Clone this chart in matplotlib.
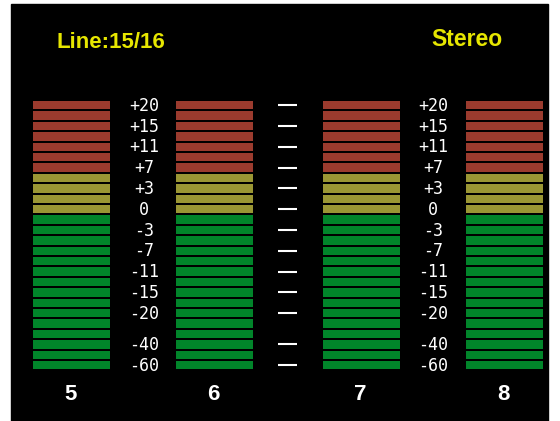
import matplotlib
matplotlib.use("Agg")
import matplotlib.pyplot as plt
from matplotlib.patches import Rectangle

# meter data
channels = ["5", "6", "7", "8"]
n_red = 7
n_yellow = 4
n_green = 15
scale_labels = ["+20", "+15", "+11", "+7", "+3", "0", "-3", "-7", "-11", "-15", "-20", "-40", "-60"]
scale_rows = [0, 2, 4, 6, 8, 10, 12, 14, 16, 18, 20, 23, 25]
title_left = "Line:15/16"
title_right = "Stereo"

RED = "#9b3b2e"
YEL = "#9a9634"
GRN = "#01852a"

fig = plt.figure(figsize=(5.6, 4.21), dpi=100)
fig.patch.set_facecolor("white")
ax = fig.add_axes([0, 0, 1, 1])
ax.set_xlim(0, 560)
ax.set_ylim(421, 0)
ax.axis("off")

ax.add_patch(Rectangle((11, 4), 537, 417, color="black"))

seg_colors = [RED] * n_red + [YEL] * n_yellow + [GRN] * n_green
top, pitch, seg_h = 101, 10.4, 8.4
meter_x = [33, 176, 323, 466]
meter_w = 77

for mx, ch in zip(meter_x, channels):
    for i, c in enumerate(seg_colors):
        ax.add_patch(Rectangle((mx, top + i * pitch), meter_w, seg_h, color=c, lw=0))
    ax.text(mx + meter_w / 2 - 1, 394, ch, color="white", ha="center", va="center",
            fontsize=16, fontweight="bold", family="Liberation Sans")

# scale labels between 5/6 and 7/8, dashes between 6/7
for lx in [144, 433]:
    for lab, r in zip(scale_labels, scale_rows):
        ax.text(lx, top + r * pitch + seg_h / 2 + 0.5, lab, color="white", ha="center",
                va="center", fontsize=12, family="DejaVu Sans Mono")
for r in scale_rows:
    y = top + r * pitch + seg_h / 2
    ax.plot([278, 297], [y, y], color="white", lw=1.5, solid_capstyle="butt")

ax.text(57, 43, title_left, color="#e6e600", ha="left", va="center",
        fontsize=16, fontweight="bold", family="Liberation Sans")
ax.text(467, 40, title_right, color="#e6e600", ha="center", va="center",
        fontsize=16.5, fontweight="bold", family="Liberation Sans")

fig.savefig("out.png", dpi=100, facecolor="white")
